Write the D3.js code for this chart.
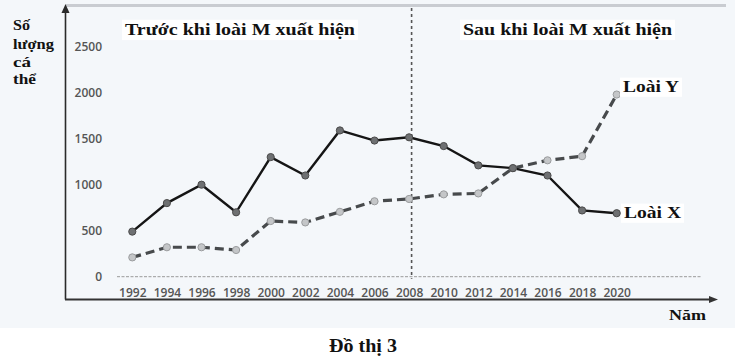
<!DOCTYPE html>
<html><head><meta charset="utf-8">
<script src="https://cdn.jsdelivr.net/npm/d3@7"></script>
<style>body{margin:0;background:#fff}svg{display:block}</style>
</head><body>
<svg id="c" width="735" height="360"></svg>
<script>
const years = [1992,1994,1996,1998,2000,2002,2004,2006,2008,2010,2012,2014,2016,2018,2020];
const loaiX = [490,800,1000,700,1300,1100,1590,1480,1515,1420,1210,1180,1100,720,690];
const loaiY = [210,320,320,290,605,590,705,820,845,895,905,1180,1265,1310,1980];
const yTicks = [0,500,1000,1500,2000,2500];
const dividerYear = 2008;
const titleBefore = "Trước khi loài M xuất hiện";
const titleAfter = "Sau khi loài M xuất hiện";
const yTitle = ["Số","lượng","cá","thể"];
const xTitle = "Năm";
const caption = "Đồ thị 3";
const seriesNames = ["Loài X","Loài Y"];

const svg = d3.select("#c");
const serif = "'Liberation Serif','Times New Roman',serif";
const sans = "'Open Sans',Roboto,sans-serif";

svg.append("rect").attr("x",0).attr("y",0).attr("width",735).attr("height",328).attr("fill","#f4f7fa");

const x = d3.scaleLinear().domain([1992,2020]).range([132.3,616.7]);
const y = d3.scaleLinear().domain([0,2500]).range([276.7,46.7]);

// top border
svg.append("line").attr("x1",66).attr("x2",726).attr("y1",5.5).attr("y2",5.5).attr("stroke","#c9ccd1").attr("stroke-width",3);

// zero line
svg.append("line").attr("x1",117).attr("x2",702).attr("y1",y(0)).attr("y2",y(0))
  .attr("stroke","#9a9a9a").attr("stroke-width",1).attr("stroke-dasharray","3,1.5");

// divider
svg.append("line").attr("x1",x(dividerYear)+2.5).attr("x2",x(dividerYear)+2.5).attr("y1",8).attr("y2",y(0)+2)
  .attr("stroke","#555").attr("stroke-width",1.6).attr("stroke-dasharray","3,3");

// axes
const ax = svg.append("g").attr("stroke","#2a2a2a").attr("fill","#2a2a2a");
ax.append("line").attr("x1",65.5).attr("x2",65.5).attr("y1",10).attr("y2",299.5).attr("stroke-width",1.6);
ax.append("path").attr("d","M65.5,4 L61.5,13 L69.5,13 Z").attr("stroke","none");
ax.append("line").attr("x1",65).attr("x2",712).attr("y1",299.5).attr("y2",299.5).attr("stroke-width",1.8).attr("stroke","#333");
ax.append("path").attr("d","M718,299.5 L709,296 L709,303 Z").attr("stroke","none").attr("fill","#333");

// y axis ticks
const gy = svg.append("g").attr("transform","translate(102,0)")
  .call(d3.axisLeft(y).tickValues(yTicks).tickSize(0).tickPadding(0).tickFormat(d3.format("d")));
gy.select(".domain").remove();
gy.selectAll("text").attr("font-family",sans).attr("font-size",12).attr("font-weight",600).attr("fill","#555");

// x axis ticks
const gx = svg.append("g").attr("transform","translate(0,293)")
  .call(d3.axisBottom(x).tickValues(years).tickSize(0).tickPadding(0).tickFormat(d3.format("d")));
gx.select(".domain").remove();
gx.selectAll("text").attr("y",0).attr("dy","0.35em").attr("font-family",sans).attr("font-size",12).attr("font-weight",600).attr("fill","#555");

// series
const dataX = years.map((yr,i)=>({yr,v:loaiX[i]}));
const dataY = years.map((yr,i)=>({yr,v:loaiY[i]}));
const line = d3.line().x(d=>x(d.yr)).y(d=>y(d.v));

svg.append("path").datum(dataY).attr("d",line).attr("fill","none")
  .attr("stroke","#474a4c").attr("stroke-width",3.2).attr("stroke-dasharray","9,5");
svg.append("path").datum(dataX).attr("d",line).attr("fill","none")
  .attr("stroke","#151515").attr("stroke-width",2.4);

svg.append("g").selectAll("circle").data(dataY).join("circle")
  .attr("cx",d=>x(d.yr)).attr("cy",d=>y(d.v)).attr("r",3.6)
  .attr("fill","#c4c6c8").attr("stroke","#9a9c9e").attr("stroke-width",1);
svg.append("g").selectAll("circle").data(dataX).join("circle")
  .attr("cx",d=>x(d.yr)).attr("cy",d=>y(d.v)).attr("r",3.6)
  .attr("fill","#6e7072").attr("stroke","#4a4a4a").attr("stroke-width",1);

// text helper
function label(txt, xx, yy, size, len, anchor, bg){
  if(bg){
    svg.append("rect").attr("x",xx-3).attr("y",yy-size*0.9).attr("width",len+6).attr("height",size*1.2).attr("fill","#fff");
  }
  const t = svg.append("text").attr("x",xx).attr("y",yy).text(txt)
    .attr("font-family",serif).attr("font-weight","bold").attr("font-size",size).attr("fill","#111")
    .attr("text-anchor",anchor||"start");
  if(len) t.attr("textLength",len).attr("lengthAdjust","spacingAndGlyphs");
  return t;
}

label(titleBefore,125,35,17,230,"start",true);
label(titleAfter,463,35,17,209,"start",true);
label(seriesNames[1],623,92,16,56,"start",true);
label(seriesNames[0],624,218,16,57,"start",true);
label(xTitle,669,320,15,37);
const yl = [30,49,67,84];
yTitle.forEach((s,i)=>{
  const w = [17,41,18,23][i];
  label(s,13,yl[i],15,w);
});
label(caption,329,352,19,68);
</script>
</body></html>
